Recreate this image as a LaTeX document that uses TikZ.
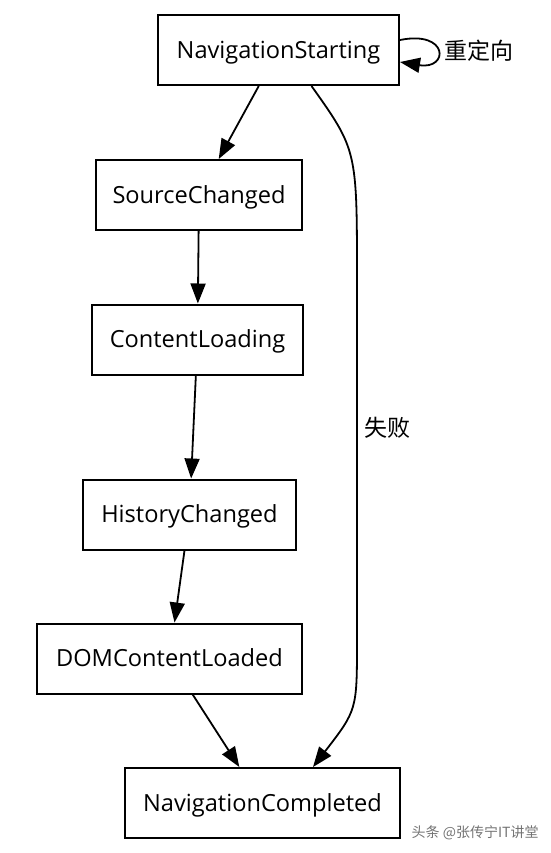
\documentclass[tikz,border=0pt]{standalone}
\usepackage{fontspec}
\setmainfont{Open Sans}
\newfontfamily\cjk{Noto Sans CJK SC}
\usetikzlibrary{arrows.meta}
\begin{document}
\begin{tikzpicture}[x=0.5pt,y=-0.5pt]
  \tikzstyle{state}=[draw,line width=1pt,inner sep=0pt,minimum height=35pt,text height=9pt,text depth=1pt,font=\fontsize{11.8}{13}\selectfont]
  \tikzstyle{edge}=[line width=0.9pt,-{Triangle[length=10pt,width=7.5pt]}]
  \tikzstyle{lbl}=[font=\cjk\fontsize{11.5}{13}\selectfont]
  \useasboundingbox (0,0) rectangle (551,853);
  \node [state,minimum width=120.5pt] (ns)  at (278.5,50)  {NavigationStarting};
  \node [state,minimum width=103pt]   (sc)  at (199,195)   {SourceChanged};
  \node [state,minimum width=105.5pt] (cl)  at (197.5,339.5) {ContentLoading};
  \node [state,minimum width=106.5pt] (hc)  at (189.5,514.5) {HistoryChanged};
  \node [state,minimum width=132.5pt] (dom) at (169.5,658.5) {DOMContentLoaded};
  \node [state,minimum width=137.5pt] (nc)  at (262.5,803)  {NavigationCompleted};
  \draw [edge] (ns) -- (sc);
  \draw [edge] (sc) -- (cl);
  \draw [edge] (cl) -- (hc);
  \draw [edge] (hc) -- (dom);
  \draw [edge] (dom) -- (nc);
  % failure path
  \draw [edge] ([xshift=16.5pt]ns.south) .. controls (357,150) .. (357,280)
    -- node [pos=0.41,right=0pt,lbl] {失败} (357,640)
    .. controls (357,710) .. ([xshift=25.25pt]nc.north);
  % redirect loop
  \draw [edge] ([yshift=5pt]ns.east) .. controls (449,30) and (449,70) ..
    node [right=0pt,lbl] {重定向} ([yshift=-6pt]ns.east);
  \node [anchor=east,text=black!55,inner sep=0pt,font=\cjk\fontsize{7}{8}\selectfont] (mark) at (539,833) {头条 @张传宁IT讲堂};
\end{tikzpicture}
\end{document}
